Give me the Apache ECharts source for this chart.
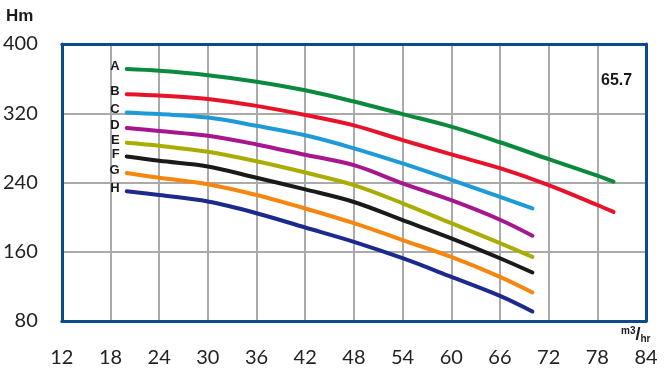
<!DOCTYPE html>
<html><head><meta charset="utf-8">
<script src="https://cdn.jsdelivr.net/npm/echarts@6/dist/echarts.min.js"></script>
<style>html,body{margin:0;padding:0;background:#fff}#c{width:666px;height:378px}</style>
</head><body><div id="c"></div>
<script>
const flow = [20, 24, 30, 36, 42, 48, 54, 60, 66, 70, 72, 78, 80];
const curveNames = ['A','B','C','D','E','F','G','H'];
const curveColors = ['#0b8a3e','#e8132b','#1e9ad8','#a5168f','#a8ad00','#1a1a1a','#f7860f','#1c2a8c'];
const headA = [371, 369, 364, 356.5, 346.5, 333.5, 319, 304.5, 286.5, null, 267, 248, 241];
const headB = [342, 340.5, 336.5, 328.5, 318, 306, 289, 272.5, 256.5, null, 237, 214, 206];
const headC = [321, 319, 315, 305.5, 294.5, 279.5, 262, 243, 223.5, 210, null, null, null];
const headD = [303, 299.5, 294, 284, 272, 260, 239, 219.5, 197, 178.5, null, null, null];
const headE = [286, 282.5, 275.5, 264.5, 251.5, 237, 216, 193, 170, 154, null, null, null];
const headF = [270, 265, 258.5, 245.5, 232, 217.5, 196.5, 175.5, 152.5, 136, null, null, null];
const headG = [251, 245.5, 238, 225.5, 210, 193, 173.5, 154, 131, 113, null, null, null];
const headH = [230, 225.5, 218, 204.5, 188, 171.5, 152.5, 131, 109, 91, null, null, null];
const heads = [headA, headB, headC, headD, headE, headF, headG, headH];
const xTicks = [12, 18, 24, 30, 36, 42, 48, 54, 60, 66, 72, 78, 84];
const yTicks = [80, 160, 240, 320, 400];
const curveTag = '65.7';

const navy = '#0b4a8c';
const series = heads.map((h, i) => ({
  type: 'line',
  name: curveNames[i],
  smooth: 0.35,
  symbol: 'circle',
  symbolSize: 0,
  showSymbol: true,
  showAllSymbol: true,
  itemStyle: { color: curveColors[i] },
  lineStyle: { color: curveColors[i], width: 4, cap: 'round', join: 'round' },
  z: 3,
  data: flow.map((x, j) => h[j] == null ? null : (j === 0 ? {
    value: [x, h[j]],
    label: { show: true, position: 'left', distance: 7, offset: [0, -2.5], formatter: curveNames[i],
      fontFamily: 'Liberation Sans', fontWeight: 'bold', fontSize: 13, color: '#1a1a1a' }
  } : [x, h[j]])).filter(d => d !== null)
}));

const chart = echarts.init(document.getElementById('c'));
chart.setOption({
  animation: false,
  grid: { left: 61, right: 20, top: 44, bottom: 57 },
  xAxis: [{
    type: 'value', min: xTicks[0], max: xTicks[xTicks.length - 1], interval: 6, position: 'bottom',
    axisLine: { show: true, lineStyle: { color: navy, width: 3 } }, axisTick: { show: false },
    splitLine: { show: true, showMinLine: false, showMaxLine: false, lineStyle: { color: '#aaaaaa', width: 2 } },
    axisLabel: { margin: 27, fontFamily: 'Lato', fontSize: 20, color: '#222', showMinLabel: true, showMaxLabel: true }
  }, {
    type: 'value', min: xTicks[0], max: xTicks[xTicks.length - 1], interval: 6, position: 'top',
    axisLine: { show: true, lineStyle: { color: navy, width: 3 } }, axisTick: { show: false },
    splitLine: { show: false }, axisLabel: { show: false }
  }],
  yAxis: [{
    type: 'value', min: yTicks[0], max: yTicks[yTicks.length - 1], interval: 80, position: 'left',
    axisLine: { show: true, lineStyle: { color: navy, width: 3 } }, axisTick: { show: false },
    splitLine: { show: true, showMinLine: false, showMaxLine: false, lineStyle: { color: '#aaaaaa', width: 2 } },
    axisLabel: { margin: 24, fontFamily: 'Lato', fontSize: 20, color: '#222' }
  }, {
    type: 'value', min: yTicks[0], max: yTicks[yTicks.length - 1], interval: 80, position: 'right',
    axisLine: { show: true, lineStyle: { color: navy, width: 3 } }, axisTick: { show: false },
    splitLine: { show: false }, axisLabel: { show: false }
  }],
  series: series,
  graphic: [
    { type: 'text', left: 6, top: 8, style: { text: 'Hm', fontFamily: 'Liberation Sans', fontWeight: 'bold', fontSize: 17, fill: '#1a1a1a' } },
    { type: 'text', left: 601, top: 73, style: { text: curveTag, fontFamily: 'Liberation Sans', fontWeight: 'bold', fontSize: 16, fill: '#1a1a1a' } },
    { type: 'text', left: 621, top: 326, style: {
      text: '{a|m3}{b|/}{c|hr}',
      rich: {
        a: { fontFamily: 'Liberation Sans', fontWeight: 'bold', fontSize: 10, fill: '#1a1a1a', verticalAlign: 'top' },
        b: { fontFamily: 'Liberation Sans', fontWeight: 'bold', fontSize: 18, fill: '#1a1a1a' },
        c: { fontFamily: 'Liberation Sans', fontWeight: 'bold', fontSize: 10, fill: '#1a1a1a', verticalAlign: 'bottom', padding: [8, 0, 0, 0] }
      } } }
  ]
});
</script></body></html>
